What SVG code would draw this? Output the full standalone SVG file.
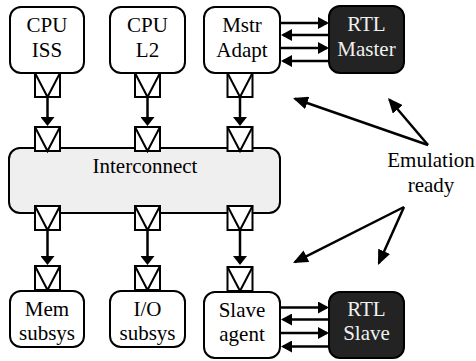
<svg xmlns="http://www.w3.org/2000/svg" width="476" height="361" viewBox="0 0 476 361">
<style>
.box{fill:#fff;stroke:#000;stroke-width:2}
.dark{fill:#232323;stroke:#000;stroke-width:2}
.ic{fill:#efefef;stroke:#000;stroke-width:2}
.port{fill:#fff;stroke:#000;stroke-width:2}
.v{fill:none;stroke:#000;stroke-width:2}
text{font-family:"Liberation Serif","DejaVu Serif","Noto Serif",serif;font-size:21px;text-anchor:middle}
.t{fill:#000}
.tw{fill:#f0f0f0}
.ln{fill:none;stroke:#000;stroke-width:2.5}
</style>
<defs>
<marker id="va" markerUnits="userSpaceOnUse" markerWidth="9" markerHeight="14" viewBox="0 0 9 14" refX="7" refY="7" orient="auto"><path d="M0,0 L9,7 L0,14 z" fill="#000"/></marker>
<marker id="ha" markerUnits="userSpaceOnUse" markerWidth="11" markerHeight="12" viewBox="0 0 11 12" refX="9" refY="6" orient="auto"><path d="M0,0 L11,6 L0,12 z" fill="#000"/></marker>
<marker id="ea" markerUnits="userSpaceOnUse" markerWidth="15" markerHeight="13" viewBox="0 0 15 13" refX="13" refY="6.5" orient="auto"><path d="M0,0 L15,6.5 L0,13 z" fill="#000"/></marker>
<g id="portshape"><rect class="port" x="0" y="0" width="25" height="24"/><path class="v" d="M0,0 L12.5,24 L25,0"/></g>
</defs>

<g id="connectors">
<line class="ln" x1="47.5" y1="97" x2="47.5" y2="124" marker-end="url(#va)"/>
<line class="ln" x1="147.5" y1="97" x2="147.5" y2="124" marker-end="url(#va)"/>
<line class="ln" x1="240" y1="97" x2="240" y2="124" marker-end="url(#va)"/>
<line class="ln" x1="47.5" y1="230" x2="47.5" y2="263" marker-end="url(#va)"/>
<line class="ln" x1="147.5" y1="230" x2="147.5" y2="263" marker-end="url(#va)"/>
<line class="ln" x1="240" y1="230" x2="240" y2="263" marker-end="url(#va)"/>
<line class="ln" x1="281" y1="23" x2="327" y2="23" marker-end="url(#ha)"/>
<line class="ln" x1="329" y1="35" x2="283" y2="35" marker-end="url(#ha)"/>
<line class="ln" x1="281" y1="48" x2="327" y2="48" marker-end="url(#ha)"/>
<line class="ln" x1="329" y1="61" x2="283" y2="61" marker-end="url(#ha)"/>
<line class="ln" x1="281" y1="307.5" x2="327" y2="307.5" marker-end="url(#ha)"/>
<line class="ln" x1="329" y1="319.5" x2="283" y2="319.5" marker-end="url(#ha)"/>
<line class="ln" x1="281" y1="333" x2="327" y2="333" marker-end="url(#ha)"/>
<line class="ln" x1="329" y1="346.5" x2="283" y2="346.5" marker-end="url(#ha)"/>
<line class="ln" x1="428" y1="145" x2="294.9" y2="98.7" marker-end="url(#ea)"/>
<line class="ln" x1="428" y1="145" x2="389.3" y2="99.5" marker-end="url(#ea)"/>
<line class="ln" x1="404" y1="207" x2="294.8" y2="262.1" marker-end="url(#ea)"/>
<line class="ln" x1="404" y1="207" x2="378.8" y2="263.2" marker-end="url(#ea)"/>
</g>

<g id="interconnect">
<rect class="ic" x="9" y="148" width="271" height="65" rx="11"/>
<text class="t" x="145" y="173">Interconnect</text>
<use href="#portshape" x="35" y="127"/>
<use href="#portshape" x="135" y="127"/>
<use href="#portshape" x="227.5" y="127"/>
<use href="#portshape" x="35" y="206"/>
<use href="#portshape" x="135" y="206"/>
<use href="#portshape" x="227.5" y="206"/>
</g>

<g id="cpu-iss">
<rect class="box" x="10" y="7" width="74" height="66" rx="11"/>
<text class="t" x="47" y="32">CPU</text>
<text class="t" x="47" y="57">ISS</text>
<use href="#portshape" x="35" y="73"/>
</g>

<g id="cpu-l2">
<rect class="box" x="110" y="7" width="75" height="66" rx="11"/>
<text class="t" x="147.5" y="32">CPU</text>
<text class="t" x="147.5" y="57">L2</text>
<use href="#portshape" x="135" y="73"/>
</g>

<g id="mstr-adapt">
<rect class="box" x="204" y="7" width="76" height="66" rx="11"/>
<text class="t" x="242" y="32">Mstr</text>
<text class="t" x="242" y="57">Adapt</text>
<use href="#portshape" x="227.5" y="73"/>
</g>

<g id="rtl-master">
<rect class="dark" x="329" y="6" width="75" height="67" rx="11"/>
<text class="tw" x="366.5" y="31">RTL</text>
<text class="tw" x="366.5" y="56">Master</text>
</g>

<g id="mem-subsys">
<rect class="box" x="10" y="291" width="74" height="56" rx="11"/>
<text class="t" x="47" y="316">Mem</text>
<text class="t" x="47" y="340">subsys</text>
<use href="#portshape" x="35" y="266"/>
</g>

<g id="io-subsys">
<rect class="box" x="110" y="291" width="75" height="56" rx="11"/>
<text class="t" x="147.5" y="316">I/O</text>
<text class="t" x="147.5" y="340">subsys</text>
<use href="#portshape" x="135" y="266"/>
</g>

<g id="slave-agent">
<rect class="box" x="204" y="292" width="76" height="66" rx="11"/>
<text class="t" x="242" y="317">Slave</text>
<text class="t" x="242" y="341">agent</text>
<use href="#portshape" x="227.5" y="267"/>
</g>

<g id="rtl-slave">
<rect class="dark" x="329" y="292" width="75" height="66" rx="11"/>
<text class="tw" x="366.5" y="316">RTL</text>
<text class="tw" x="366.5" y="340">Slave</text>
</g>

<g id="emulation-label">
<text class="t" x="431" y="167">Emulation</text>
<text class="t" x="431" y="192">ready</text>
</g>
</svg>
